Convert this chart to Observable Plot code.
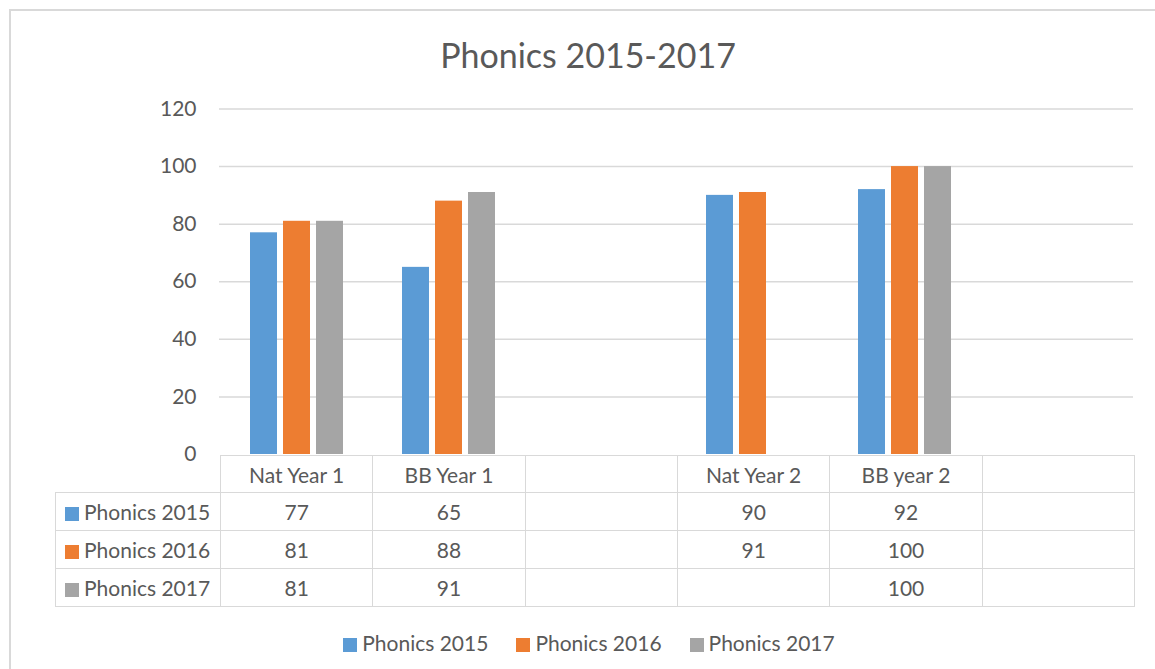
<!DOCTYPE html>
<html>
<head>
<meta charset="utf-8">
<script src="https://cdn.jsdelivr.net/npm/d3@7"></script>
<script src="https://cdn.jsdelivr.net/npm/@observablehq/plot@0.6"></script>
<style>
  html, body { margin: 0; padding: 0; background: #fff; }
  #chart { position: relative; width: 1155px; height: 669px; overflow: hidden; font-family: Lato, sans-serif; color: #595959; }
  #frame { position: absolute; left: 9px; top: 9px; width: 1180px; height: 700px; border: 2px solid #d9d9d9; box-sizing: border-box; }
  #title { position: absolute; left: 0; width: 1176px; top: 35px; text-align: center; font-size: 34px; line-height: 40px; white-space: nowrap; }
  .plotlayer { position: absolute; left: 0; top: 0; }
  #table { position: absolute; left: 55px; top: 455px; border-collapse: collapse; table-layout: fixed; font-size: 21px; }
  #table td { border: 1.5px solid #d9d9d9; text-align: center; padding: 0; white-space: nowrap; }
  #table tr.head td { height: 36px; }
  #table tr.row td { height: 37px; }
  #table td.corner { border-top: none; border-left: none; border-bottom: none; }
  #table td.label { text-align: left; padding-left: 9px; }
  .sw { display: inline-block; width: 14px; height: 14px; margin-right: 5px; vertical-align: -1px; }
  #legend { position: absolute; left: 0; width: 1178px; top: 630px; text-align: center; font-size: 21px; line-height: 26px; white-space: nowrap; }
  #legend .item { display: inline-block; margin: 0 14px; }
</style>
</head>
<body>
<div id="chart">
  <div id="frame"></div>
  <div id="title">Phonics 2015-2017</div>
  <div id="gridlayer" class="plotlayer"></div>
  <div id="barlayer" class="plotlayer"></div>
  <table id="table"></table>
  <div id="legend"></div>
</div>
<script>
// ---- data ----
const categories = ["Nat Year 1", "BB Year 1", "", "Nat Year 2", "BB year 2", ""];
const series = ["Phonics 2015", "Phonics 2016", "Phonics 2017"];
const phonics2015 = [77, 65, null, 90, 92, null];
const phonics2016 = [81, 88, null, 91, 100, null];
const phonics2017 = [81, 91, null, null, 100, null];
const colors = ["#5b9bd5", "#ed7d31", "#a5a5a5"];
const yTicks = [0, 20, 40, 60, 80, 100, 120];

const seriesValues = [phonics2015, phonics2016, phonics2017];
const rows = [];
series.forEach((s, si) => {
  seriesValues[si].forEach((v, ci) => {
    if (v != null) rows.push({cat: ci, series: s, value: v});
  });
});

const common = {
  width: 1155,
  height: 456,
  marginLeft: 219,
  marginRight: 22,
  marginTop: 108.5,
  marginBottom: 2,
  style: {fontFamily: "Lato, sans-serif", fontSize: "21px", color: "#595959", background: "transparent", overflow: "visible"},
  y: {domain: [0, 120], axis: null}
};

// grid + y axis (not faceted, spans the whole frame)
const gridPlot = Plot.plot({
  ...common,
  marks: [
    Plot.gridY(yTicks.filter(t => t > 0), {stroke: "#d9d9d9", strokeOpacity: 1, strokeWidth: 1.5}),
    Plot.axisY(yTicks, {label: null, tickSize: 0, tickPadding: 23, fill: "#595959"})
  ]
});
document.getElementById("gridlayer").appendChild(gridPlot);

// clustered bars, one facet per category column
const barPlot = Plot.plot({
  ...common,
  fx: {domain: d3.range(categories.length), padding: 0, axis: null},
  x: {domain: series, paddingInner: 0.194, paddingOuter: 0.866, axis: null},
  color: {domain: series, range: colors},
  marks: [
    Plot.barY(rows, {fx: "cat", x: "series", y: "value", fill: "series"})
  ]
});
document.getElementById("barlayer").appendChild(barPlot);

// ---- data table under the axis ----
const table = document.getElementById("table");
const colgroup = document.createElement("colgroup");
const c0 = document.createElement("col"); c0.style.width = "165px"; colgroup.appendChild(c0);
categories.forEach(() => { const c = document.createElement("col"); c.style.width = (914 / categories.length) + "px"; colgroup.appendChild(c); });
table.appendChild(colgroup);
const head = document.createElement("tr"); head.className = "head";
const corner = document.createElement("td"); corner.className = "corner"; head.appendChild(corner);
categories.forEach(c => { const td = document.createElement("td"); td.textContent = c; head.appendChild(td); });
table.appendChild(head);
series.forEach((s, si) => {
  const tr = document.createElement("tr"); tr.className = "row";
  const lab = document.createElement("td"); lab.className = "label";
  const sw = document.createElement("span"); sw.className = "sw"; sw.style.background = colors[si];
  lab.appendChild(sw); lab.appendChild(document.createTextNode(s));
  tr.appendChild(lab);
  seriesValues[si].forEach(v => { const td = document.createElement("td"); td.textContent = v == null ? "" : v; tr.appendChild(td); });
  table.appendChild(tr);
});

// ---- legend ----
const legend = document.getElementById("legend");
series.forEach((s, si) => {
  const it = document.createElement("span"); it.className = "item";
  const sw = document.createElement("span"); sw.className = "sw"; sw.style.background = colors[si];
  it.appendChild(sw); it.appendChild(document.createTextNode(s));
  legend.appendChild(it);
});
</script>
</body>
</html>
